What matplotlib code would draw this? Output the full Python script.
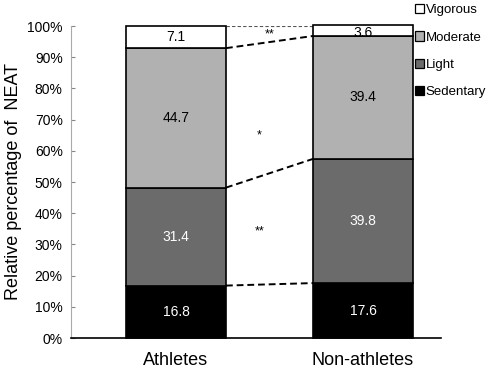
import matplotlib
matplotlib.use("Agg")
import matplotlib.pyplot as plt
import numpy as np
from matplotlib.patches import Patch

plt.rcParams['font.family'] = ['Liberation Sans', 'DejaVu Sans']

groups = ["Athletes", "Non-athletes"]
levels = ["Sedentary", "Light", "Moderate", "Vigorous"]
sedentary = [16.8, 17.6]
light = [31.4, 39.8]
moderate = [44.7, 39.4]
vigorous = [7.1, 3.6]
colors = ["#000000", "#6b6b6b", "#b1b1b1", "#ffffff"]
text_colors = ["white", "white", "black", "black"]
sig_labels = ["**", "*", "**"]
sig_y = [34, 65, 97.4]

series = [sedentary, light, moderate, vigorous]

fig = plt.figure(figsize=(4.89, 3.69), dpi=100)
ax = fig.add_axes([71/489, (369-338)/369, (441-71)/489, (338-26)/369])

x = np.arange(len(groups))
w = 0.535
bottom = np.zeros(len(groups))
tops = []
for vals, c, tc in zip(series, colors, text_colors):
    vals = np.array(vals)
    ax.bar(x, vals, w, bottom=bottom, color=c, edgecolor="black", linewidth=1.2, clip_on=False, zorder=2)
    for xi, b, v in zip(x, bottom, vals):
        ax.text(xi, b + v/2 - (1.0 if v < 5 else 0), f"{v:.1f}", ha="center", va="center", color=tc, fontsize=10, zorder=3)
    bottom = bottom + vals
    tops.append(bottom.copy())

# connecting dashed lines
for t in tops[:-1]:
    ax.plot([x[0] + w/2, x[1] - w/2], [t[0], min(t[1], 100)], ls=(0, (3.5, 2)), color="black", lw=1.4, zorder=1)
ax.plot([x[0] + w/2, x[1] - w/2], [100, 100], ls=(0, (3, 2)), color="#555555", lw=0.8, zorder=1)

for s, yy in zip(sig_labels, sig_y):
    ax.text(0.445 if yy < 90 else 0.5, yy, s, ha="center", va="center", fontsize=9)

ax.set_xlim(-0.561, 1.417)
ax.set_ylim(0, 100)
ax.set_yticks(np.arange(0, 101, 10))
ax.set_yticklabels([f"{v}%" for v in range(0, 101, 10)], fontsize=10)
ax.set_xticks(x)
ax.set_xticklabels(groups, fontsize=13)
ax.tick_params(axis="x", length=0, pad=10)
ax.tick_params(axis="y", direction="in", length=3, color="#888888", pad=6)
ax.set_ylabel("Relative percentage of  NEAT", fontsize=13, labelpad=4)
for sp in ["top", "right"]:
    ax.spines[sp].set_visible(False)
ax.spines["left"].set_color("#aaaaaa")
ax.spines["left"].set_linewidth(0.8)
ax.spines["bottom"].set_linewidth(1.2)

handles = [Patch(facecolor=c, edgecolor="black", linewidth=0.9) for c in colors[::-1]]
fig.legend(handles, levels[::-1], loc="upper left", bbox_to_anchor=(414/489, 0.993),
           frameon=False, fontsize=9.5, handlelength=0.65, handleheight=0.7,
           handletextpad=0.15, labelspacing=1.15, borderaxespad=0, borderpad=0.1)

fig.savefig("out.png", dpi=100)
